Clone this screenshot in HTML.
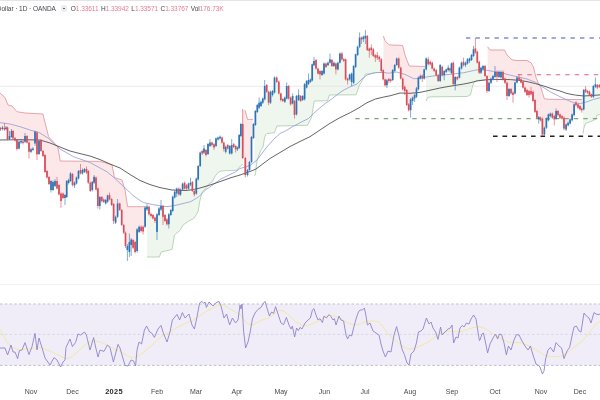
<!DOCTYPE html>
<html><head><meta charset="utf-8"><title>chart</title>
<style>
html,body{margin:0;padding:0;background:#fff;}
body{width:600px;height:400px;overflow:hidden;position:relative;font-family:"Liberation Sans",sans-serif;}
#wrap{position:absolute;left:0;top:0;width:600px;height:400px;overflow:hidden;background:#fff;filter:blur(0.35px);}
.hd{position:absolute;top:4.6px;right:376.4px;font-size:6.5px;line-height:8px;color:#46464c;white-space:nowrap;letter-spacing:-0.05px;}
.hd .v{color:#e67c90;}
.hd .ic{display:inline-block;width:6.4px;height:6.4px;border-radius:50%;background:#ececf0;vertical-align:-1px;margin:0 3.4px 0 4.4px;position:relative;}
.hd .ic:after{content:"";position:absolute;left:2px;top:2.8px;width:2.4px;height:0.9px;background:#666;}
.hd .g{margin-left:2.5px;}
.hd .t{position:relative;left:-0.8px;}
.tl{position:absolute;top:386.5px;width:40px;text-align:center;font-size:7px;line-height:10px;color:#4a4a50;}
.tl.b{font-weight:bold;color:#2a2a2e;font-size:7.4px;letter-spacing:0.3px;}
</style></head><body><div id="wrap">
<svg width="600" height="400" viewBox="0 0 600 400" style="position:absolute;left:0;top:0">
<rect x="0" y="0" width="600" height="1" fill="#e4e4e6"/>
<rect x="0" y="284.1" width="600" height="0.9" fill="#f1f1f3"/>
<polygon points="-2.0,91.0 0.0,93.0 5.0,97.5 8.0,105.0 12.0,106.0 17.0,111.7 25.0,113.0 43.0,114.0 44.4,120.0 48.6,136.7 57.8,146.8 60.3,161.0 99.5,161.4 104.5,162.6 112.0,165.0 114.5,177.6 122.0,180.0 125.0,190.0 127.6,206.7 146.0,206.7 146.0,212.8 145.1,217.2 143.1,229.2 141.1,228.9 139.1,229.4 137.1,240.2 135.1,247.0 133.1,243.9 131.2,242.2 129.4,247.0 127.4,248.0 125.5,239.3 123.7,228.8 121.7,217.5 119.7,206.8 117.6,210.1 115.6,219.8 113.6,212.5 111.6,202.0 109.5,197.2 107.6,198.6 105.7,201.8 103.7,200.8 101.8,199.0 99.8,201.5 97.9,197.2 96.0,183.5 94.1,179.8 92.3,186.0 90.3,186.8 88.3,176.8 86.5,170.8 84.5,170.5 82.5,171.8 80.5,171.8 78.5,174.8 76.5,180.5 74.5,184.0 72.5,179.5 70.5,177.2 68.6,181.5 66.7,189.0 65.0,196.5 63.0,195.8 61.0,197.2 59.0,189.8 57.0,184.8 55.0,183.5 53.0,186.0 51.0,185.5 49.0,180.5 47.0,174.2 45.0,163.5 43.0,153.5 41.0,145.5 39.0,147.5 37.0,143.4 35.0,137.6 33.0,149.2 31.0,150.6 29.0,147.2 27.0,139.3 25.0,138.9 23.0,142.2 21.0,141.8 19.0,145.2 17.0,144.5 15.0,139.2 13.0,134.7 11.5,134.0 9.5,137.5 7.5,133.4 6.0,128.2 4.5,128.8 2.5,128.2 0.5,128.8 -2.0,128.8" fill="#fde8e9"/>
<polygon points="242.5,109.5 245.0,110.2 247.6,119.4 253.0,119.4 253.0,135.6 251.5,149.5 249.5,166.0 247.5,172.5 245.3,166.5 242.7,141.0 242.5,139.8" fill="#fde8e9"/>
<polygon points="383.4,35.9 385.0,40.9 388.4,44.2 390.0,45.0 402.6,45.4 405.0,55.0 406.8,60.0 409.3,66.0 425.2,66.5 425.2,69.0 424.2,74.0 422.3,77.0 420.3,77.2 418.4,83.4 416.5,92.6 414.6,96.8 412.6,99.3 410.6,104.8 408.7,107.2 406.7,97.5 404.7,88.9 402.7,83.9 400.7,73.1 398.7,63.1 396.7,61.8 394.7,68.0 392.7,75.0 390.7,80.2 388.8,80.0 386.9,82.8 385.1,82.3 383.4,75.6" fill="#fde8e9"/>
<polygon points="487.6,46.8 490.0,50.0 504.4,50.0 507.0,55.0 512.0,59.8 517.0,60.5 527.0,60.5 531.0,62.7 533.5,67.0 536.0,77.5 538.5,83.4 541.0,87.6 542.7,93.5 544.4,98.8 548.6,99.3 582.0,99.6 582.0,108.3 581.8,109.3 580.0,107.7 578.0,106.0 576.0,104.0 574.1,109.8 572.1,117.3 570.1,121.5 568.1,124.0 566.1,127.0 564.0,123.2 562.0,117.3 560.0,116.1 558.0,113.1 556.1,114.8 554.3,117.8 552.3,115.7 550.3,114.8 548.4,117.3 546.4,123.2 544.4,131.2 542.4,126.5 540.5,119.0 538.7,118.2 536.9,114.3 535.0,106.0 533.0,96.4 531.0,92.7 529.0,93.0 527.0,92.5 525.0,89.7 523.0,84.7 521.0,80.9 519.0,78.8 517.0,80.0 515.0,88.0 513.0,93.8 511.0,91.2 509.0,92.5 507.0,89.4 505.0,80.7 503.0,75.7 501.0,74.7 499.0,74.4 497.0,74.4 495.0,74.4 493.0,77.7 491.0,80.7 489.0,86.9 487.6,84.5" fill="#fde8e9"/>
<polygon points="147.0,257.0 159.5,257.0 161.0,252.0 172.0,249.5 174.5,235.0 180.4,230.0 183.0,225.0 188.8,221.0 193.8,218.5 198.0,211.8 200.0,200.0 201.0,196.0 201.9,192.8 208.6,184.4 212.0,182.0 215.3,176.0 217.8,172.7 221.0,171.0 237.0,170.2 240.4,166.0 243.0,164.3 243.0,143.9 242.7,141.0 240.9,130.0 239.2,141.5 237.5,148.4 235.7,147.7 233.7,145.6 231.7,149.2 229.7,149.8 227.7,146.8 225.7,149.2 223.8,145.8 222.0,140.1 220.0,137.6 218.0,138.5 216.0,142.2 214.0,145.9 212.0,143.8 210.0,144.2 208.0,149.0 206.0,152.5 204.0,150.6 202.2,152.2 200.2,159.3 198.2,172.7 196.3,186.1 194.3,192.8 192.4,186.5 190.5,183.7 188.5,186.1 186.5,186.9 184.6,185.7 182.6,186.6 180.5,192.0 178.8,191.6 176.7,191.1 174.7,194.6 172.7,203.8 170.8,212.5 168.8,219.3 166.9,221.8 165.0,218.0 163.0,211.4 161.0,207.8 159.0,211.7 157.0,223.1 155.0,219.3 153.0,216.8 151.0,215.0 149.0,210.5 147.0,208.0 147.0,208.0" fill="#eef6ee"/>
<polygon points="254.5,176.0 255.5,174.0 257.0,161.0 259.0,155.0 261.0,150.0 263.0,147.0 264.5,138.0 265.5,135.0 267.0,133.5 274.4,132.8 276.9,126.0 307.5,125.3 311.7,117.0 314.2,101.0 327.6,100.7 329.3,95.0 356.0,94.8 359.5,85.0 364.5,76.7 365.3,74.2 377.0,72.5 382.0,72.5 382.0,68.7 381.3,65.2 379.3,58.0 377.3,56.5 375.3,56.5 373.3,52.6 371.3,48.9 369.3,49.8 367.3,43.0 365.4,37.1 363.4,38.0 361.5,38.5 359.6,42.2 357.6,50.9 355.6,60.6 353.6,74.4 351.6,77.8 349.6,76.9 347.6,79.5 345.6,69.3 343.8,60.1 341.9,56.4 339.9,58.1 337.9,66.1 335.9,66.5 333.9,64.3 331.9,63.0 330.0,61.0 328.0,64.0 326.0,65.2 324.0,68.5 322.0,73.0 320.0,72.7 318.0,71.1 316.0,64.3 314.0,63.1 312.2,72.5 310.4,80.8 308.5,82.0 306.6,84.3 304.6,91.8 302.6,98.0 300.6,98.5 298.6,97.5 296.5,105.2 294.5,108.0 292.6,99.8 290.6,100.9 288.6,92.2 286.7,92.2 284.8,99.7 282.8,100.0 280.8,96.8 278.8,87.6 276.7,79.8 274.5,85.0 272.5,93.0 270.5,97.2 268.6,97.2 266.7,88.4 264.7,92.7 262.8,100.6 261.0,103.9 259.1,105.2 257.3,108.5 255.4,118.0 254.5,124.2" fill="#eef6ee"/>
<polygon points="426.0,101.0 427.7,97.6 430.3,96.8 467.0,96.5 470.5,95.0 472.0,88.4 473.8,82.6 476.7,80.5 487.0,80.0 487.0,83.5 487.0,83.5 485.0,71.0 483.0,67.7 481.0,70.2 479.2,67.2 477.3,57.2 475.4,50.5 473.5,52.6 471.5,57.5 469.5,59.8 467.5,61.4 465.5,64.0 463.5,63.5 461.5,65.6 459.4,72.7 457.3,78.2 455.2,80.7 453.3,73.3 451.5,68.2 449.9,69.3 448.2,69.0 446.2,70.7 444.2,73.1 442.2,71.1 440.2,73.0 438.2,78.1 436.2,72.7 434.2,69.8 432.2,65.6 430.2,63.0 428.2,61.8 426.2,64.0 426.0,65.0" fill="#eef6ee"/>
<polygon points="583.0,133.6 583.8,128.6 585.4,123.6 592.0,121.0 595.5,119.4 597.0,115.2 601.0,114.4 601.0,85.9 599.4,85.9 597.4,86.3 595.4,85.5 593.4,91.4 591.4,95.5 589.5,93.4 587.6,91.8 585.6,90.5 583.7,99.7 583.0,103.3" fill="#eef6ee"/>
<line x1="0" y1="86.3" x2="600" y2="86.3" stroke="#ebe2e4" stroke-width="0.8"/>
<polyline points="-2.0,91.0 0.0,93.0 5.0,97.5 8.0,105.0 12.0,106.0 17.0,111.7 25.0,113.0 43.0,114.0 44.4,120.0 48.6,136.7 57.8,146.8 60.3,161.0 99.5,161.4 104.5,162.6 112.0,165.0 114.5,177.6 122.0,180.0 125.0,190.0 127.6,206.7 146.0,206.7" fill="none" stroke="#dc9098" stroke-width="0.8"/>
<polyline points="245.0,110.2 247.6,119.4 253.0,119.4" fill="none" stroke="#dc9098" stroke-width="0.8"/>
<polyline points="383.4,35.9 385.0,40.9 388.4,44.2 390.0,45.0 402.6,45.4 405.0,55.0 406.8,60.0 409.3,66.0 425.2,66.5" fill="none" stroke="#dc9098" stroke-width="0.8"/>
<polyline points="487.6,46.8 490.0,50.0 504.4,50.0 507.0,55.0 512.0,59.8 517.0,60.5 527.0,60.5 531.0,62.7 533.5,67.0 536.0,77.5 538.5,83.4 541.0,87.6 542.7,93.5 544.4,98.8 548.6,99.3 582.0,99.6" fill="none" stroke="#dc9098" stroke-width="0.8"/>
<polyline points="147.0,257.0 159.5,257.0 161.0,252.0 172.0,249.5 174.5,235.0 180.4,230.0 183.0,225.0 188.8,221.0 193.8,218.5 198.0,211.8 200.0,200.0 201.0,196.0 201.9,192.8 208.6,184.4 212.0,182.0 215.3,176.0 217.8,172.7 221.0,171.0 237.0,170.2 240.4,166.0 243.0,164.3" fill="none" stroke="#a9cba9" stroke-width="0.8"/>
<polyline points="254.5,176.0 255.5,174.0 257.0,161.0 259.0,155.0 261.0,150.0 263.0,147.0 264.5,138.0 265.5,135.0 267.0,133.5 274.4,132.8 276.9,126.0 307.5,125.3 311.7,117.0 314.2,101.0 327.6,100.7 329.3,95.0 356.0,94.8 359.5,85.0 364.5,76.7 365.3,74.2 377.0,72.5 382.0,72.5" fill="none" stroke="#a9cba9" stroke-width="0.8"/>
<polyline points="426.0,101.0 427.7,97.6 430.3,96.8 467.0,96.5 470.5,95.0 472.0,88.4 473.8,82.6 476.7,80.5 487.0,80.0" fill="none" stroke="#a9cba9" stroke-width="0.8"/>
<polyline points="583.0,133.6 583.8,128.6 585.4,123.6 592.0,121.0 595.5,119.4 597.0,115.2 601.0,114.4" fill="none" stroke="#a9cba9" stroke-width="0.8"/>
<line x1="466" y1="38" x2="600" y2="38" stroke="#4054c0" stroke-width="1.15" stroke-dasharray="4.4 5.1"/>
<line x1="517.8" y1="74.7" x2="600" y2="74.7" stroke="#e4607a" stroke-width="1.15" stroke-dasharray="4.4 5.1"/>
<line x1="355.3" y1="118.6" x2="600" y2="118.6" stroke="#76aa76" stroke-width="1.05" stroke-dasharray="4.4 5.1"/>
<line x1="493" y1="136.3" x2="600" y2="136.3" stroke="#222" stroke-width="1.4" stroke-dasharray="4.6 4.9"/>
<polyline points="-1.0,122.5 10.0,124.0 20.0,126.7 30.0,130.0 40.0,133.0 48.0,138.0 60.0,149.0 73.5,156.7 90.0,162.5 107.0,171.8 115.0,178.5 123.7,186.8 128.5,191.0 133.0,195.5 140.0,200.5 143.5,202.6 155.0,205.0 167.0,206.7 177.0,205.0 190.5,201.7 198.5,197.0 205.0,190.3 215.0,183.3 220.0,179.5 227.0,176.0 235.4,171.9 240.0,168.5 245.0,167.0 250.0,165.5 257.0,160.0 266.0,148.0 274.0,139.0 280.0,133.5 285.3,131.0 292.0,127.0 300.0,122.8 308.4,118.5 316.8,110.5 325.0,103.6 331.0,99.5 338.0,94.0 343.0,90.5 350.0,86.8 357.0,84.0 362.0,79.0 367.0,75.0 375.4,72.6 383.8,72.5 388.4,73.2 396.8,72.0 405.0,74.4 413.5,78.6 418.5,78.6 427.0,76.9 438.6,75.2 450.4,74.4 463.8,72.7 473.8,70.5 476.7,69.9 485.0,69.9 493.5,71.5 501.9,72.9 510.3,75.2 518.6,77.0 527.0,79.0 535.4,82.3 541.9,86.5 550.3,91.8 558.6,96.0 567.0,100.0 573.7,102.7 580.4,103.5 587.0,101.8 593.8,99.3 601.0,97.6" fill="none" stroke="#9199d6" stroke-width="0.8" stroke-linejoin="round"/>
<polyline points="-1.0,140.0 20.0,139.7 40.0,140.0 50.0,143.0 60.0,147.0 70.0,151.0 80.0,153.6 90.0,156.0 100.0,159.6 110.0,164.0 120.0,168.0 130.0,174.5 140.0,180.5 150.0,184.6 160.0,187.6 172.0,190.0 186.0,190.5 193.5,189.5 200.0,188.0 210.0,185.0 220.0,181.6 230.0,178.0 240.0,175.0 250.0,171.5 256.0,169.0 262.0,164.5 270.0,158.5 280.0,152.5 290.0,146.5 300.0,141.5 310.0,136.7 320.0,130.0 330.0,123.3 340.0,117.6 350.3,112.6 358.6,108.0 367.0,102.7 375.4,99.0 383.8,97.0 390.0,95.8 400.0,93.0 410.0,93.3 420.0,92.4 430.0,90.2 440.0,88.0 450.0,86.2 463.8,84.0 470.0,82.8 476.7,81.0 485.0,79.9 493.5,79.4 510.3,79.6 518.6,80.3 527.0,81.6 535.4,83.6 543.8,86.0 552.0,88.8 560.0,91.0 567.0,93.5 575.4,95.1 583.8,96.0 592.0,95.5 601.0,94.8" fill="none" stroke="#484848" stroke-width="0.85" stroke-linejoin="round"/>
<line x1="0.5" y1="127.0" x2="0.5" y2="131.0" stroke="#db4b59" stroke-width="0.6"/>
<rect x="-0.35" y="128.0" width="1.7" height="1.5" fill="#db4b59"/>
<line x1="2.5" y1="126.0" x2="2.5" y2="130.5" stroke="#2c74b6" stroke-width="0.6"/>
<rect x="1.65" y="127.5" width="1.7" height="1.5" fill="#2c74b6"/>
<line x1="4.5" y1="123.0" x2="4.5" y2="131.0" stroke="#db4b59" stroke-width="0.6"/>
<rect x="3.65" y="128.0" width="1.7" height="1.5" fill="#db4b59"/>
<line x1="6.0" y1="126.0" x2="6.0" y2="130.0" stroke="#2c74b6" stroke-width="0.6"/>
<rect x="5.15" y="127.5" width="1.7" height="1.5" fill="#2c74b6"/>
<line x1="7.5" y1="126.5" x2="7.5" y2="140.5" stroke="#db4b59" stroke-width="0.6"/>
<rect x="6.65" y="127.5" width="1.7" height="11.8" fill="#db4b59"/>
<line x1="9.5" y1="131.0" x2="9.5" y2="140.0" stroke="#2c74b6" stroke-width="0.6"/>
<rect x="8.65" y="136.0" width="1.7" height="3.0" fill="#2c74b6"/>
<line x1="11.5" y1="129.0" x2="11.5" y2="138.0" stroke="#2c74b6" stroke-width="0.6"/>
<rect x="10.65" y="131.0" width="1.7" height="6.0" fill="#2c74b6"/>
<line x1="13.0" y1="130.0" x2="13.0" y2="139.5" stroke="#db4b59" stroke-width="0.6"/>
<rect x="12.15" y="131.0" width="1.7" height="7.4" fill="#db4b59"/>
<line x1="15.0" y1="137.0" x2="15.0" y2="141.5" stroke="#db4b59" stroke-width="0.6"/>
<rect x="14.15" y="138.0" width="1.7" height="2.5" fill="#db4b59"/>
<line x1="17.0" y1="139.0" x2="17.0" y2="150.5" stroke="#db4b59" stroke-width="0.6"/>
<rect x="16.15" y="140.0" width="1.7" height="9.0" fill="#db4b59"/>
<line x1="19.0" y1="140.5" x2="19.0" y2="149.5" stroke="#2c74b6" stroke-width="0.6"/>
<rect x="18.15" y="141.8" width="1.7" height="6.7" fill="#2c74b6"/>
<line x1="21.0" y1="139.5" x2="21.0" y2="144.0" stroke="#2c74b6" stroke-width="0.6"/>
<rect x="20.15" y="141.0" width="1.7" height="1.5" fill="#2c74b6"/>
<line x1="23.0" y1="140.0" x2="23.0" y2="144.5" stroke="#db4b59" stroke-width="0.6"/>
<rect x="22.15" y="141.5" width="1.7" height="1.5" fill="#db4b59"/>
<line x1="25.0" y1="133.0" x2="25.0" y2="143.0" stroke="#2c74b6" stroke-width="0.6"/>
<rect x="24.15" y="136.0" width="1.7" height="5.8" fill="#2c74b6"/>
<line x1="27.0" y1="135.0" x2="27.0" y2="143.5" stroke="#db4b59" stroke-width="0.6"/>
<rect x="26.15" y="136.0" width="1.7" height="6.6" fill="#db4b59"/>
<line x1="29.0" y1="141.5" x2="29.0" y2="158.5" stroke="#db4b59" stroke-width="0.6"/>
<rect x="28.15" y="142.6" width="1.7" height="9.2" fill="#db4b59"/>
<line x1="31.0" y1="148.0" x2="31.0" y2="153.0" stroke="#2c74b6" stroke-width="0.6"/>
<rect x="30.15" y="149.3" width="1.7" height="2.5" fill="#2c74b6"/>
<line x1="33.0" y1="147.0" x2="33.0" y2="151.0" stroke="#2c74b6" stroke-width="0.6"/>
<rect x="32.15" y="148.5" width="1.7" height="1.5" fill="#2c74b6"/>
<line x1="35.0" y1="130.5" x2="35.0" y2="146.0" stroke="#2c74b6" stroke-width="0.6"/>
<rect x="34.15" y="131.7" width="1.7" height="11.8" fill="#2c74b6"/>
<line x1="37.0" y1="131.0" x2="37.0" y2="160.0" stroke="#db4b59" stroke-width="0.6"/>
<rect x="36.15" y="132.5" width="1.7" height="21.8" fill="#db4b59"/>
<line x1="39.0" y1="140.0" x2="39.0" y2="155.0" stroke="#2c74b6" stroke-width="0.6"/>
<rect x="38.15" y="141.0" width="1.7" height="13.0" fill="#2c74b6"/>
<line x1="41.0" y1="139.0" x2="41.0" y2="152.0" stroke="#db4b59" stroke-width="0.6"/>
<rect x="40.15" y="140.0" width="1.7" height="11.0" fill="#db4b59"/>
<line x1="43.0" y1="150.0" x2="43.0" y2="157.0" stroke="#db4b59" stroke-width="0.6"/>
<rect x="42.15" y="151.0" width="1.7" height="5.0" fill="#db4b59"/>
<line x1="45.0" y1="154.0" x2="45.0" y2="173.0" stroke="#db4b59" stroke-width="0.6"/>
<rect x="44.15" y="155.0" width="1.7" height="17.0" fill="#db4b59"/>
<line x1="47.0" y1="170.0" x2="47.0" y2="178.5" stroke="#db4b59" stroke-width="0.6"/>
<rect x="46.15" y="171.0" width="1.7" height="6.5" fill="#db4b59"/>
<line x1="49.0" y1="176.0" x2="49.0" y2="185.0" stroke="#db4b59" stroke-width="0.6"/>
<rect x="48.15" y="177.0" width="1.7" height="7.0" fill="#db4b59"/>
<line x1="51.0" y1="180.0" x2="51.0" y2="192.5" stroke="#2c74b6" stroke-width="0.6"/>
<rect x="50.15" y="181.0" width="1.7" height="9.0" fill="#2c74b6"/>
<line x1="53.0" y1="180.5" x2="53.0" y2="191.0" stroke="#2c74b6" stroke-width="0.6"/>
<rect x="52.15" y="182.0" width="1.7" height="8.0" fill="#2c74b6"/>
<line x1="55.0" y1="179.0" x2="55.0" y2="187.0" stroke="#2c74b6" stroke-width="0.6"/>
<rect x="54.15" y="181.0" width="1.7" height="5.0" fill="#2c74b6"/>
<line x1="57.0" y1="177.0" x2="57.0" y2="189.5" stroke="#db4b59" stroke-width="0.6"/>
<rect x="56.15" y="181.0" width="1.7" height="7.5" fill="#db4b59"/>
<line x1="59.0" y1="184.0" x2="59.0" y2="195.5" stroke="#db4b59" stroke-width="0.6"/>
<rect x="58.15" y="185.0" width="1.7" height="9.5" fill="#db4b59"/>
<line x1="61.0" y1="192.5" x2="61.0" y2="207.8" stroke="#db4b59" stroke-width="0.6"/>
<rect x="60.15" y="193.5" width="1.7" height="7.5" fill="#db4b59"/>
<line x1="63.0" y1="192.5" x2="63.0" y2="199.0" stroke="#db4b59" stroke-width="0.6"/>
<rect x="62.15" y="193.5" width="1.7" height="4.5" fill="#db4b59"/>
<line x1="65.0" y1="194.0" x2="65.0" y2="205.0" stroke="#2c74b6" stroke-width="0.6"/>
<rect x="64.15" y="195.0" width="1.7" height="3.0" fill="#2c74b6"/>
<line x1="66.7" y1="180.0" x2="66.7" y2="198.0" stroke="#2c74b6" stroke-width="0.6"/>
<rect x="65.85" y="181.0" width="1.7" height="16.0" fill="#2c74b6"/>
<line x1="68.6" y1="178.5" x2="68.6" y2="184.5" stroke="#2c74b6" stroke-width="0.6"/>
<rect x="67.75" y="180.0" width="1.7" height="3.0" fill="#2c74b6"/>
<line x1="70.5" y1="172.0" x2="70.5" y2="182.0" stroke="#2c74b6" stroke-width="0.6"/>
<rect x="69.65" y="173.5" width="1.7" height="7.5" fill="#2c74b6"/>
<line x1="72.5" y1="173.0" x2="72.5" y2="186.5" stroke="#db4b59" stroke-width="0.6"/>
<rect x="71.65" y="174.0" width="1.7" height="11.0" fill="#db4b59"/>
<line x1="74.5" y1="181.5" x2="74.5" y2="188.0" stroke="#2c74b6" stroke-width="0.6"/>
<rect x="73.65" y="182.5" width="1.7" height="3.0" fill="#2c74b6"/>
<line x1="76.5" y1="176.5" x2="76.5" y2="184.5" stroke="#2c74b6" stroke-width="0.6"/>
<rect x="75.65" y="177.5" width="1.7" height="6.0" fill="#2c74b6"/>
<line x1="78.5" y1="170.0" x2="78.5" y2="179.5" stroke="#2c74b6" stroke-width="0.6"/>
<rect x="77.65" y="171.0" width="1.7" height="7.5" fill="#2c74b6"/>
<line x1="80.5" y1="164.0" x2="80.5" y2="174.5" stroke="#db4b59" stroke-width="0.6"/>
<rect x="79.65" y="170.0" width="1.7" height="3.5" fill="#db4b59"/>
<line x1="82.5" y1="168.5" x2="82.5" y2="174.5" stroke="#2c74b6" stroke-width="0.6"/>
<rect x="81.65" y="170.0" width="1.7" height="3.5" fill="#2c74b6"/>
<line x1="84.5" y1="168.0" x2="84.5" y2="173.0" stroke="#2c74b6" stroke-width="0.6"/>
<rect x="83.65" y="169.0" width="1.7" height="3.0" fill="#2c74b6"/>
<line x1="86.5" y1="166.5" x2="86.5" y2="174.0" stroke="#db4b59" stroke-width="0.6"/>
<rect x="85.65" y="169.0" width="1.7" height="3.6" fill="#db4b59"/>
<line x1="88.3" y1="170.0" x2="88.3" y2="184.0" stroke="#db4b59" stroke-width="0.6"/>
<rect x="87.45" y="171.0" width="1.7" height="11.7" fill="#db4b59"/>
<line x1="90.3" y1="181.5" x2="90.3" y2="192.0" stroke="#db4b59" stroke-width="0.6"/>
<rect x="89.45" y="182.7" width="1.7" height="8.3" fill="#db4b59"/>
<line x1="92.3" y1="181.0" x2="92.3" y2="191.5" stroke="#2c74b6" stroke-width="0.6"/>
<rect x="91.45" y="182.0" width="1.7" height="8.0" fill="#2c74b6"/>
<line x1="94.1" y1="175.0" x2="94.1" y2="184.0" stroke="#2c74b6" stroke-width="0.6"/>
<rect x="93.25" y="176.8" width="1.7" height="5.9" fill="#2c74b6"/>
<line x1="96.0" y1="176.5" x2="96.0" y2="190.5" stroke="#db4b59" stroke-width="0.6"/>
<rect x="95.15" y="177.5" width="1.7" height="12.0" fill="#db4b59"/>
<line x1="97.9" y1="187.5" x2="97.9" y2="208.5" stroke="#db4b59" stroke-width="0.6"/>
<rect x="97.05" y="188.5" width="1.7" height="17.5" fill="#db4b59"/>
<line x1="99.8" y1="196.0" x2="99.8" y2="209.5" stroke="#2c74b6" stroke-width="0.6"/>
<rect x="98.95" y="197.0" width="1.7" height="9.0" fill="#2c74b6"/>
<line x1="101.8" y1="196.0" x2="101.8" y2="202.5" stroke="#db4b59" stroke-width="0.6"/>
<rect x="100.95" y="197.0" width="1.7" height="4.0" fill="#db4b59"/>
<line x1="103.7" y1="198.5" x2="103.7" y2="203.0" stroke="#db4b59" stroke-width="0.6"/>
<rect x="102.85" y="199.5" width="1.7" height="2.5" fill="#db4b59"/>
<line x1="105.7" y1="199.0" x2="105.7" y2="204.5" stroke="#2c74b6" stroke-width="0.6"/>
<rect x="104.85" y="200.0" width="1.7" height="3.5" fill="#2c74b6"/>
<line x1="107.6" y1="194.5" x2="107.6" y2="203.0" stroke="#2c74b6" stroke-width="0.6"/>
<rect x="106.75" y="195.5" width="1.7" height="6.2" fill="#2c74b6"/>
<line x1="109.5" y1="192.5" x2="109.5" y2="200.5" stroke="#db4b59" stroke-width="0.6"/>
<rect x="108.65" y="195.0" width="1.7" height="4.5" fill="#db4b59"/>
<line x1="111.6" y1="198.0" x2="111.6" y2="206.0" stroke="#db4b59" stroke-width="0.6"/>
<rect x="110.75" y="199.0" width="1.7" height="6.0" fill="#db4b59"/>
<line x1="113.6" y1="203.0" x2="113.6" y2="224.0" stroke="#db4b59" stroke-width="0.6"/>
<rect x="112.75" y="204.0" width="1.7" height="17.0" fill="#db4b59"/>
<line x1="115.6" y1="215.5" x2="115.6" y2="224.0" stroke="#2c74b6" stroke-width="0.6"/>
<rect x="114.75" y="216.8" width="1.7" height="5.9" fill="#2c74b6"/>
<line x1="117.6" y1="199.0" x2="117.6" y2="218.0" stroke="#2c74b6" stroke-width="0.6"/>
<rect x="116.75" y="203.4" width="1.7" height="13.4" fill="#2c74b6"/>
<line x1="119.7" y1="202.5" x2="119.7" y2="211.0" stroke="#db4b59" stroke-width="0.6"/>
<rect x="118.85" y="203.5" width="1.7" height="6.5" fill="#db4b59"/>
<line x1="121.7" y1="209.0" x2="121.7" y2="226.0" stroke="#db4b59" stroke-width="0.6"/>
<rect x="120.85" y="210.0" width="1.7" height="15.0" fill="#db4b59"/>
<line x1="123.7" y1="224.0" x2="123.7" y2="234.0" stroke="#db4b59" stroke-width="0.6"/>
<rect x="122.85" y="225.0" width="1.7" height="7.7" fill="#db4b59"/>
<line x1="125.5" y1="231.5" x2="125.5" y2="248.0" stroke="#db4b59" stroke-width="0.6"/>
<rect x="124.65" y="232.7" width="1.7" height="13.3" fill="#db4b59"/>
<line x1="127.4" y1="244.0" x2="127.4" y2="261.0" stroke="#2c74b6" stroke-width="0.6"/>
<rect x="126.55" y="246.0" width="1.7" height="4.0" fill="#2c74b6"/>
<line x1="129.4" y1="233.5" x2="129.4" y2="257.0" stroke="#2c74b6" stroke-width="0.6"/>
<rect x="128.55" y="242.0" width="1.7" height="10.0" fill="#2c74b6"/>
<line x1="131.2" y1="238.0" x2="131.2" y2="256.0" stroke="#2c74b6" stroke-width="0.6"/>
<rect x="130.35" y="239.5" width="1.7" height="5.5" fill="#2c74b6"/>
<line x1="133.1" y1="239.0" x2="133.1" y2="249.0" stroke="#db4b59" stroke-width="0.6"/>
<rect x="132.25" y="240.0" width="1.7" height="7.8" fill="#db4b59"/>
<line x1="135.1" y1="241.0" x2="135.1" y2="253.5" stroke="#db4b59" stroke-width="0.6"/>
<rect x="134.25" y="242.0" width="1.7" height="10.0" fill="#db4b59"/>
<line x1="137.1" y1="228.0" x2="137.1" y2="252.5" stroke="#2c74b6" stroke-width="0.6"/>
<rect x="136.25" y="229.4" width="1.7" height="21.6" fill="#2c74b6"/>
<line x1="139.1" y1="225.5" x2="139.1" y2="233.0" stroke="#2c74b6" stroke-width="0.6"/>
<rect x="138.25" y="226.8" width="1.7" height="5.1" fill="#2c74b6"/>
<line x1="141.1" y1="225.5" x2="141.1" y2="232.5" stroke="#db4b59" stroke-width="0.6"/>
<rect x="140.25" y="226.8" width="1.7" height="4.2" fill="#db4b59"/>
<line x1="143.1" y1="225.5" x2="143.1" y2="234.5" stroke="#db4b59" stroke-width="0.6"/>
<rect x="142.25" y="226.8" width="1.7" height="4.7" fill="#db4b59"/>
<line x1="145.1" y1="206.5" x2="145.1" y2="228.0" stroke="#2c74b6" stroke-width="0.6"/>
<rect x="144.25" y="207.6" width="1.7" height="19.2" fill="#2c74b6"/>
<line x1="147.0" y1="204.0" x2="147.0" y2="211.0" stroke="#2c74b6" stroke-width="0.6"/>
<rect x="146.15" y="206.5" width="1.7" height="3.0" fill="#2c74b6"/>
<line x1="149.0" y1="205.5" x2="149.0" y2="215.5" stroke="#db4b59" stroke-width="0.6"/>
<rect x="148.15" y="206.7" width="1.7" height="7.6" fill="#db4b59"/>
<line x1="151.0" y1="212.5" x2="151.0" y2="217.5" stroke="#db4b59" stroke-width="0.6"/>
<rect x="150.15" y="214.0" width="1.7" height="2.0" fill="#db4b59"/>
<line x1="153.0" y1="214.0" x2="153.0" y2="219.5" stroke="#db4b59" stroke-width="0.6"/>
<rect x="152.15" y="215.0" width="1.7" height="3.5" fill="#db4b59"/>
<line x1="155.0" y1="216.5" x2="155.0" y2="223.0" stroke="#db4b59" stroke-width="0.6"/>
<rect x="154.15" y="217.6" width="1.7" height="3.4" fill="#db4b59"/>
<line x1="157.0" y1="213.0" x2="157.0" y2="240.0" stroke="#2c74b6" stroke-width="0.6"/>
<rect x="156.15" y="214.3" width="1.7" height="17.6" fill="#2c74b6"/>
<line x1="159.0" y1="207.0" x2="159.0" y2="216.0" stroke="#2c74b6" stroke-width="0.6"/>
<rect x="158.15" y="208.4" width="1.7" height="6.6" fill="#2c74b6"/>
<line x1="161.0" y1="200.0" x2="161.0" y2="211.0" stroke="#2c74b6" stroke-width="0.6"/>
<rect x="160.15" y="206.0" width="1.7" height="3.5" fill="#2c74b6"/>
<line x1="163.0" y1="205.0" x2="163.0" y2="225.0" stroke="#db4b59" stroke-width="0.6"/>
<rect x="162.15" y="206.0" width="1.7" height="10.8" fill="#db4b59"/>
<line x1="165.0" y1="214.0" x2="165.0" y2="222.0" stroke="#db4b59" stroke-width="0.6"/>
<rect x="164.15" y="215.0" width="1.7" height="6.0" fill="#db4b59"/>
<line x1="166.9" y1="218.0" x2="166.9" y2="225.5" stroke="#db4b59" stroke-width="0.6"/>
<rect x="166.05" y="219.3" width="1.7" height="5.0" fill="#db4b59"/>
<line x1="168.8" y1="213.0" x2="168.8" y2="228.5" stroke="#2c74b6" stroke-width="0.6"/>
<rect x="167.95" y="214.3" width="1.7" height="10.0" fill="#2c74b6"/>
<line x1="170.8" y1="209.0" x2="170.8" y2="216.0" stroke="#2c74b6" stroke-width="0.6"/>
<rect x="169.95" y="210.0" width="1.7" height="5.0" fill="#2c74b6"/>
<line x1="172.7" y1="195.5" x2="172.7" y2="212.0" stroke="#2c74b6" stroke-width="0.6"/>
<rect x="171.85" y="196.7" width="1.7" height="14.3" fill="#2c74b6"/>
<line x1="174.7" y1="190.5" x2="174.7" y2="198.5" stroke="#2c74b6" stroke-width="0.6"/>
<rect x="173.85" y="191.7" width="1.7" height="5.8" fill="#2c74b6"/>
<line x1="176.7" y1="187.5" x2="176.7" y2="197.0" stroke="#2c74b6" stroke-width="0.6"/>
<rect x="175.85" y="188.6" width="1.7" height="4.9" fill="#2c74b6"/>
<line x1="178.8" y1="187.5" x2="178.8" y2="195.5" stroke="#db4b59" stroke-width="0.6"/>
<rect x="177.95" y="188.6" width="1.7" height="5.9" fill="#db4b59"/>
<line x1="180.5" y1="188.5" x2="180.5" y2="196.0" stroke="#2c74b6" stroke-width="0.6"/>
<rect x="179.65" y="189.5" width="1.7" height="5.0" fill="#2c74b6"/>
<line x1="182.6" y1="182.5" x2="182.6" y2="190.5" stroke="#2c74b6" stroke-width="0.6"/>
<rect x="181.75" y="183.6" width="1.7" height="5.9" fill="#2c74b6"/>
<line x1="184.6" y1="181.5" x2="184.6" y2="189.5" stroke="#db4b59" stroke-width="0.6"/>
<rect x="183.75" y="182.8" width="1.7" height="5.8" fill="#db4b59"/>
<line x1="186.5" y1="184.0" x2="186.5" y2="189.8" stroke="#db4b59" stroke-width="0.6"/>
<rect x="185.65" y="185.3" width="1.7" height="3.3" fill="#db4b59"/>
<line x1="188.5" y1="182.5" x2="188.5" y2="189.5" stroke="#2c74b6" stroke-width="0.6"/>
<rect x="187.65" y="183.6" width="1.7" height="5.0" fill="#2c74b6"/>
<line x1="190.5" y1="177.7" x2="190.5" y2="186.0" stroke="#2c74b6" stroke-width="0.6"/>
<rect x="189.65" y="182.8" width="1.7" height="1.7" fill="#2c74b6"/>
<line x1="192.4" y1="181.0" x2="192.4" y2="192.0" stroke="#db4b59" stroke-width="0.6"/>
<rect x="191.55" y="182.0" width="1.7" height="9.0" fill="#db4b59"/>
<line x1="194.3" y1="190.0" x2="194.3" y2="196.5" stroke="#db4b59" stroke-width="0.6"/>
<rect x="193.45" y="191.0" width="1.7" height="3.5" fill="#db4b59"/>
<line x1="196.3" y1="177.5" x2="196.3" y2="194.8" stroke="#2c74b6" stroke-width="0.6"/>
<rect x="195.45" y="178.6" width="1.7" height="15.0" fill="#2c74b6"/>
<line x1="198.2" y1="165.0" x2="198.2" y2="180.5" stroke="#2c74b6" stroke-width="0.6"/>
<rect x="197.35" y="166.0" width="1.7" height="13.4" fill="#2c74b6"/>
<line x1="200.2" y1="151.5" x2="200.2" y2="167.0" stroke="#2c74b6" stroke-width="0.6"/>
<rect x="199.35" y="152.6" width="1.7" height="13.4" fill="#2c74b6"/>
<line x1="202.2" y1="149.5" x2="202.2" y2="155.0" stroke="#db4b59" stroke-width="0.6"/>
<rect x="201.35" y="151.0" width="1.7" height="2.5" fill="#db4b59"/>
<line x1="204.0" y1="145.0" x2="204.0" y2="154.0" stroke="#2c74b6" stroke-width="0.6"/>
<rect x="203.15" y="148.5" width="1.7" height="4.1" fill="#2c74b6"/>
<line x1="206.0" y1="149.0" x2="206.0" y2="156.5" stroke="#db4b59" stroke-width="0.6"/>
<rect x="205.15" y="150.0" width="1.7" height="5.0" fill="#db4b59"/>
<line x1="208.0" y1="143.0" x2="208.0" y2="155.0" stroke="#2c74b6" stroke-width="0.6"/>
<rect x="207.15" y="144.0" width="1.7" height="10.0" fill="#2c74b6"/>
<line x1="210.0" y1="139.0" x2="210.0" y2="147.0" stroke="#2c74b6" stroke-width="0.6"/>
<rect x="209.15" y="142.5" width="1.7" height="3.5" fill="#2c74b6"/>
<line x1="212.0" y1="141.5" x2="212.0" y2="146.5" stroke="#db4b59" stroke-width="0.6"/>
<rect x="211.15" y="142.5" width="1.7" height="2.5" fill="#db4b59"/>
<line x1="214.0" y1="143.0" x2="214.0" y2="150.0" stroke="#db4b59" stroke-width="0.6"/>
<rect x="213.15" y="144.2" width="1.7" height="3.4" fill="#db4b59"/>
<line x1="216.0" y1="137.5" x2="216.0" y2="147.0" stroke="#2c74b6" stroke-width="0.6"/>
<rect x="215.15" y="138.4" width="1.7" height="7.6" fill="#2c74b6"/>
<line x1="218.0" y1="136.5" x2="218.0" y2="140.5" stroke="#2c74b6" stroke-width="0.6"/>
<rect x="217.15" y="137.5" width="1.7" height="2.0" fill="#2c74b6"/>
<line x1="220.0" y1="135.5" x2="220.0" y2="139.5" stroke="#2c74b6" stroke-width="0.6"/>
<rect x="219.15" y="136.7" width="1.7" height="1.7" fill="#2c74b6"/>
<line x1="222.0" y1="136.5" x2="222.0" y2="143.5" stroke="#db4b59" stroke-width="0.6"/>
<rect x="221.15" y="137.5" width="1.7" height="5.1" fill="#db4b59"/>
<line x1="223.8" y1="141.5" x2="223.8" y2="151.5" stroke="#db4b59" stroke-width="0.6"/>
<rect x="222.95" y="142.6" width="1.7" height="6.4" fill="#db4b59"/>
<line x1="225.7" y1="145.5" x2="225.7" y2="153.5" stroke="#2c74b6" stroke-width="0.6"/>
<rect x="224.85" y="146.7" width="1.7" height="5.1" fill="#2c74b6"/>
<line x1="227.7" y1="144.0" x2="227.7" y2="149.5" stroke="#db4b59" stroke-width="0.6"/>
<rect x="226.85" y="145.0" width="1.7" height="3.5" fill="#db4b59"/>
<line x1="229.7" y1="145.0" x2="229.7" y2="154.5" stroke="#2c74b6" stroke-width="0.6"/>
<rect x="228.85" y="146.0" width="1.7" height="7.5" fill="#2c74b6"/>
<line x1="231.7" y1="139.0" x2="231.7" y2="154.5" stroke="#2c74b6" stroke-width="0.6"/>
<rect x="230.85" y="145.0" width="1.7" height="8.5" fill="#2c74b6"/>
<line x1="233.7" y1="143.0" x2="233.7" y2="148.0" stroke="#db4b59" stroke-width="0.6"/>
<rect x="232.85" y="144.2" width="1.7" height="2.8" fill="#db4b59"/>
<line x1="235.7" y1="145.0" x2="235.7" y2="152.6" stroke="#db4b59" stroke-width="0.6"/>
<rect x="234.85" y="146.0" width="1.7" height="3.3" fill="#db4b59"/>
<line x1="237.5" y1="146.5" x2="237.5" y2="151.0" stroke="#2c74b6" stroke-width="0.6"/>
<rect x="236.65" y="147.6" width="1.7" height="1.7" fill="#2c74b6"/>
<line x1="239.2" y1="134.0" x2="239.2" y2="149.0" stroke="#2c74b6" stroke-width="0.6"/>
<rect x="238.35" y="135.0" width="1.7" height="13.0" fill="#2c74b6"/>
<line x1="240.9" y1="123.0" x2="240.9" y2="137.0" stroke="#2c74b6" stroke-width="0.6"/>
<rect x="240.05" y="124.0" width="1.7" height="12.0" fill="#2c74b6"/>
<line x1="242.7" y1="109.0" x2="242.7" y2="159.0" stroke="#db4b59" stroke-width="0.6"/>
<rect x="241.85" y="124.0" width="1.7" height="34.0" fill="#db4b59"/>
<line x1="245.3" y1="157.0" x2="245.3" y2="177.5" stroke="#db4b59" stroke-width="0.6"/>
<rect x="244.45" y="158.0" width="1.7" height="17.0" fill="#db4b59"/>
<line x1="247.5" y1="169.0" x2="247.5" y2="176.5" stroke="#2c74b6" stroke-width="0.6"/>
<rect x="246.65" y="170.0" width="1.7" height="5.0" fill="#2c74b6"/>
<line x1="249.5" y1="161.0" x2="249.5" y2="171.0" stroke="#2c74b6" stroke-width="0.6"/>
<rect x="248.65" y="162.0" width="1.7" height="8.0" fill="#2c74b6"/>
<line x1="251.5" y1="136.0" x2="251.5" y2="163.0" stroke="#2c74b6" stroke-width="0.6"/>
<rect x="250.65" y="137.0" width="1.7" height="25.0" fill="#2c74b6"/>
<line x1="253.5" y1="123.0" x2="253.5" y2="139.0" stroke="#2c74b6" stroke-width="0.6"/>
<rect x="252.65" y="124.0" width="1.7" height="14.0" fill="#2c74b6"/>
<line x1="255.4" y1="110.0" x2="255.4" y2="126.0" stroke="#2c74b6" stroke-width="0.6"/>
<rect x="254.55" y="111.0" width="1.7" height="14.0" fill="#2c74b6"/>
<line x1="257.3" y1="104.0" x2="257.3" y2="113.0" stroke="#2c74b6" stroke-width="0.6"/>
<rect x="256.45" y="105.0" width="1.7" height="7.0" fill="#2c74b6"/>
<line x1="259.1" y1="97.6" x2="259.1" y2="109.0" stroke="#2c74b6" stroke-width="0.6"/>
<rect x="258.25" y="102.7" width="1.7" height="5.0" fill="#2c74b6"/>
<line x1="261.0" y1="100.5" x2="261.0" y2="107.0" stroke="#2c74b6" stroke-width="0.6"/>
<rect x="260.15" y="101.8" width="1.7" height="4.2" fill="#2c74b6"/>
<line x1="262.8" y1="97.5" x2="262.8" y2="104.0" stroke="#2c74b6" stroke-width="0.6"/>
<rect x="261.95" y="98.5" width="1.7" height="4.2" fill="#2c74b6"/>
<line x1="264.7" y1="80.0" x2="264.7" y2="100.5" stroke="#2c74b6" stroke-width="0.6"/>
<rect x="263.85" y="86.0" width="1.7" height="13.3" fill="#2c74b6"/>
<line x1="266.7" y1="84.0" x2="266.7" y2="93.0" stroke="#db4b59" stroke-width="0.6"/>
<rect x="265.85" y="85.0" width="1.7" height="6.8" fill="#db4b59"/>
<line x1="268.6" y1="90.5" x2="268.6" y2="105.2" stroke="#db4b59" stroke-width="0.6"/>
<rect x="267.75" y="91.8" width="1.7" height="10.9" fill="#db4b59"/>
<line x1="270.5" y1="90.5" x2="270.5" y2="104.0" stroke="#2c74b6" stroke-width="0.6"/>
<rect x="269.65" y="91.8" width="1.7" height="10.9" fill="#2c74b6"/>
<line x1="272.5" y1="90.0" x2="272.5" y2="96.5" stroke="#2c74b6" stroke-width="0.6"/>
<rect x="271.65" y="91.0" width="1.7" height="4.0" fill="#2c74b6"/>
<line x1="274.5" y1="76.5" x2="274.5" y2="93.5" stroke="#2c74b6" stroke-width="0.6"/>
<rect x="273.65" y="77.5" width="1.7" height="15.1" fill="#2c74b6"/>
<line x1="276.7" y1="76.5" x2="276.7" y2="83.0" stroke="#db4b59" stroke-width="0.6"/>
<rect x="275.85" y="77.5" width="1.7" height="4.5" fill="#db4b59"/>
<line x1="278.8" y1="80.5" x2="278.8" y2="94.5" stroke="#db4b59" stroke-width="0.6"/>
<rect x="277.95" y="81.7" width="1.7" height="11.8" fill="#db4b59"/>
<line x1="280.8" y1="92.5" x2="280.8" y2="101.5" stroke="#db4b59" stroke-width="0.6"/>
<rect x="279.95" y="93.5" width="1.7" height="6.5" fill="#db4b59"/>
<line x1="282.8" y1="98.0" x2="282.8" y2="102.0" stroke="#db4b59" stroke-width="0.6"/>
<rect x="281.95" y="99.0" width="1.7" height="2.0" fill="#db4b59"/>
<line x1="284.8" y1="96.5" x2="284.8" y2="103.0" stroke="#2c74b6" stroke-width="0.6"/>
<rect x="283.95" y="97.6" width="1.7" height="4.2" fill="#2c74b6"/>
<line x1="286.7" y1="82.5" x2="286.7" y2="99.5" stroke="#2c74b6" stroke-width="0.6"/>
<rect x="285.85" y="86.0" width="1.7" height="12.5" fill="#2c74b6"/>
<line x1="288.6" y1="85.0" x2="288.6" y2="99.5" stroke="#db4b59" stroke-width="0.6"/>
<rect x="287.75" y="86.0" width="1.7" height="12.5" fill="#db4b59"/>
<line x1="290.6" y1="96.5" x2="290.6" y2="105.5" stroke="#db4b59" stroke-width="0.6"/>
<rect x="289.75" y="97.6" width="1.7" height="6.7" fill="#db4b59"/>
<line x1="292.6" y1="93.5" x2="292.6" y2="104.5" stroke="#2c74b6" stroke-width="0.6"/>
<rect x="291.75" y="96.0" width="1.7" height="7.5" fill="#2c74b6"/>
<line x1="294.5" y1="100.0" x2="294.5" y2="118.6" stroke="#db4b59" stroke-width="0.6"/>
<rect x="293.65" y="101.0" width="1.7" height="14.0" fill="#db4b59"/>
<line x1="296.5" y1="95.0" x2="296.5" y2="115.5" stroke="#2c74b6" stroke-width="0.6"/>
<rect x="295.65" y="96.0" width="1.7" height="18.4" fill="#2c74b6"/>
<line x1="298.6" y1="89.3" x2="298.6" y2="101.0" stroke="#2c74b6" stroke-width="0.6"/>
<rect x="297.75" y="95.0" width="1.7" height="5.0" fill="#2c74b6"/>
<line x1="300.6" y1="95.0" x2="300.6" y2="102.0" stroke="#db4b59" stroke-width="0.6"/>
<rect x="299.75" y="96.0" width="1.7" height="5.0" fill="#db4b59"/>
<line x1="302.6" y1="95.0" x2="302.6" y2="101.0" stroke="#2c74b6" stroke-width="0.6"/>
<rect x="301.75" y="96.0" width="1.7" height="4.0" fill="#2c74b6"/>
<line x1="304.6" y1="83.0" x2="304.6" y2="100.5" stroke="#2c74b6" stroke-width="0.6"/>
<rect x="303.75" y="84.2" width="1.7" height="15.1" fill="#2c74b6"/>
<line x1="306.6" y1="80.0" x2="306.6" y2="88.5" stroke="#2c74b6" stroke-width="0.6"/>
<rect x="305.75" y="81.0" width="1.7" height="6.6" fill="#2c74b6"/>
<line x1="308.5" y1="73.6" x2="308.5" y2="85.0" stroke="#2c74b6" stroke-width="0.6"/>
<rect x="307.65" y="80.0" width="1.7" height="4.0" fill="#2c74b6"/>
<line x1="310.4" y1="78.5" x2="310.4" y2="83.0" stroke="#2c74b6" stroke-width="0.6"/>
<rect x="309.55" y="79.5" width="1.7" height="2.5" fill="#2c74b6"/>
<line x1="312.2" y1="63.5" x2="312.2" y2="81.5" stroke="#2c74b6" stroke-width="0.6"/>
<rect x="311.35" y="64.4" width="1.7" height="16.1" fill="#2c74b6"/>
<line x1="314.0" y1="56.8" x2="314.0" y2="66.0" stroke="#2c74b6" stroke-width="0.6"/>
<rect x="313.15" y="61.0" width="1.7" height="4.2" fill="#2c74b6"/>
<line x1="316.0" y1="59.0" x2="316.0" y2="69.5" stroke="#db4b59" stroke-width="0.6"/>
<rect x="315.15" y="60.0" width="1.7" height="8.6" fill="#db4b59"/>
<line x1="318.0" y1="67.5" x2="318.0" y2="74.5" stroke="#db4b59" stroke-width="0.6"/>
<rect x="317.15" y="68.6" width="1.7" height="5.0" fill="#db4b59"/>
<line x1="320.0" y1="70.0" x2="320.0" y2="79.4" stroke="#db4b59" stroke-width="0.6"/>
<rect x="319.15" y="71.0" width="1.7" height="3.4" fill="#db4b59"/>
<line x1="322.0" y1="70.0" x2="322.0" y2="76.0" stroke="#2c74b6" stroke-width="0.6"/>
<rect x="321.15" y="71.0" width="1.7" height="4.0" fill="#2c74b6"/>
<line x1="324.0" y1="62.5" x2="324.0" y2="74.5" stroke="#2c74b6" stroke-width="0.6"/>
<rect x="323.15" y="63.5" width="1.7" height="10.1" fill="#2c74b6"/>
<line x1="326.0" y1="62.5" x2="326.0" y2="68.0" stroke="#db4b59" stroke-width="0.6"/>
<rect x="325.15" y="63.5" width="1.7" height="3.5" fill="#db4b59"/>
<line x1="328.0" y1="61.5" x2="328.0" y2="66.0" stroke="#2c74b6" stroke-width="0.6"/>
<rect x="327.15" y="62.7" width="1.7" height="2.5" fill="#2c74b6"/>
<line x1="330.0" y1="53.5" x2="330.0" y2="63.5" stroke="#2c74b6" stroke-width="0.6"/>
<rect x="329.15" y="59.3" width="1.7" height="3.4" fill="#2c74b6"/>
<line x1="331.9" y1="59.0" x2="331.9" y2="67.0" stroke="#db4b59" stroke-width="0.6"/>
<rect x="331.05" y="60.0" width="1.7" height="6.0" fill="#db4b59"/>
<line x1="333.9" y1="61.5" x2="333.9" y2="67.0" stroke="#2c74b6" stroke-width="0.6"/>
<rect x="333.05" y="62.7" width="1.7" height="3.3" fill="#2c74b6"/>
<line x1="335.9" y1="62.5" x2="335.9" y2="74.4" stroke="#db4b59" stroke-width="0.6"/>
<rect x="335.05" y="63.5" width="1.7" height="5.9" fill="#db4b59"/>
<line x1="337.9" y1="61.5" x2="337.9" y2="70.5" stroke="#2c74b6" stroke-width="0.6"/>
<rect x="337.05" y="62.7" width="1.7" height="6.7" fill="#2c74b6"/>
<line x1="339.9" y1="52.5" x2="339.9" y2="63.5" stroke="#2c74b6" stroke-width="0.6"/>
<rect x="339.05" y="53.5" width="1.7" height="9.2" fill="#2c74b6"/>
<line x1="341.9" y1="51.8" x2="341.9" y2="60.5" stroke="#db4b59" stroke-width="0.6"/>
<rect x="341.05" y="53.5" width="1.7" height="5.8" fill="#db4b59"/>
<line x1="343.8" y1="58.0" x2="343.8" y2="62.0" stroke="#db4b59" stroke-width="0.6"/>
<rect x="342.95" y="59.3" width="1.7" height="1.7" fill="#db4b59"/>
<line x1="345.6" y1="58.5" x2="345.6" y2="80.5" stroke="#db4b59" stroke-width="0.6"/>
<rect x="344.75" y="59.3" width="1.7" height="20.1" fill="#db4b59"/>
<line x1="347.6" y1="77.5" x2="347.6" y2="84.5" stroke="#db4b59" stroke-width="0.6"/>
<rect x="346.75" y="78.6" width="1.7" height="1.9" fill="#db4b59"/>
<line x1="349.6" y1="73.5" x2="349.6" y2="80.5" stroke="#2c74b6" stroke-width="0.6"/>
<rect x="348.75" y="74.4" width="1.7" height="5.0" fill="#2c74b6"/>
<line x1="351.6" y1="72.5" x2="351.6" y2="86.0" stroke="#2c74b6" stroke-width="0.6"/>
<rect x="350.75" y="73.6" width="1.7" height="8.4" fill="#2c74b6"/>
<line x1="353.6" y1="65.0" x2="353.6" y2="84.0" stroke="#2c74b6" stroke-width="0.6"/>
<rect x="352.75" y="66.0" width="1.7" height="16.8" fill="#2c74b6"/>
<line x1="355.6" y1="53.5" x2="355.6" y2="68.0" stroke="#2c74b6" stroke-width="0.6"/>
<rect x="354.75" y="54.3" width="1.7" height="12.6" fill="#2c74b6"/>
<line x1="357.6" y1="45.5" x2="357.6" y2="56.0" stroke="#2c74b6" stroke-width="0.6"/>
<rect x="356.75" y="46.8" width="1.7" height="8.2" fill="#2c74b6"/>
<line x1="359.6" y1="32.5" x2="359.6" y2="48.0" stroke="#2c74b6" stroke-width="0.6"/>
<rect x="358.75" y="37.6" width="1.7" height="9.2" fill="#2c74b6"/>
<line x1="361.5" y1="36.5" x2="361.5" y2="44.0" stroke="#db4b59" stroke-width="0.6"/>
<rect x="360.65" y="37.6" width="1.7" height="1.9" fill="#db4b59"/>
<line x1="363.4" y1="35.5" x2="363.4" y2="42.0" stroke="#2c74b6" stroke-width="0.6"/>
<rect x="362.55" y="36.7" width="1.7" height="2.5" fill="#2c74b6"/>
<line x1="365.4" y1="30.0" x2="365.4" y2="44.0" stroke="#2c74b6" stroke-width="0.6"/>
<rect x="364.55" y="35.9" width="1.7" height="2.5" fill="#2c74b6"/>
<line x1="367.3" y1="35.0" x2="367.3" y2="51.0" stroke="#db4b59" stroke-width="0.6"/>
<rect x="366.45" y="35.9" width="1.7" height="14.1" fill="#db4b59"/>
<line x1="369.3" y1="47.5" x2="369.3" y2="57.7" stroke="#db4b59" stroke-width="0.6"/>
<rect x="368.45" y="48.5" width="1.7" height="2.5" fill="#db4b59"/>
<line x1="371.3" y1="44.3" x2="371.3" y2="55.0" stroke="#db4b59" stroke-width="0.6"/>
<rect x="370.45" y="47.6" width="1.7" height="2.5" fill="#db4b59"/>
<line x1="373.3" y1="48.0" x2="373.3" y2="57.0" stroke="#db4b59" stroke-width="0.6"/>
<rect x="372.45" y="49.3" width="1.7" height="6.7" fill="#db4b59"/>
<line x1="375.3" y1="54.0" x2="375.3" y2="62.0" stroke="#db4b59" stroke-width="0.6"/>
<rect x="374.45" y="55.2" width="1.7" height="2.5" fill="#db4b59"/>
<line x1="377.3" y1="52.0" x2="377.3" y2="60.0" stroke="#db4b59" stroke-width="0.6"/>
<rect x="376.45" y="55.2" width="1.7" height="2.5" fill="#db4b59"/>
<line x1="379.3" y1="55.5" x2="379.3" y2="62.0" stroke="#db4b59" stroke-width="0.6"/>
<rect x="378.45" y="56.8" width="1.7" height="2.5" fill="#db4b59"/>
<line x1="381.3" y1="58.0" x2="381.3" y2="72.0" stroke="#db4b59" stroke-width="0.6"/>
<rect x="380.45" y="59.3" width="1.7" height="11.7" fill="#db4b59"/>
<line x1="383.2" y1="69.0" x2="383.2" y2="80.5" stroke="#db4b59" stroke-width="0.6"/>
<rect x="382.35" y="70.2" width="1.7" height="9.2" fill="#db4b59"/>
<line x1="385.1" y1="78.5" x2="385.1" y2="86.5" stroke="#db4b59" stroke-width="0.6"/>
<rect x="384.25" y="79.4" width="1.7" height="5.9" fill="#db4b59"/>
<line x1="386.9" y1="79.0" x2="386.9" y2="88.0" stroke="#2c74b6" stroke-width="0.6"/>
<rect x="386.05" y="80.3" width="1.7" height="5.0" fill="#2c74b6"/>
<line x1="388.8" y1="78.0" x2="388.8" y2="83.0" stroke="#db4b59" stroke-width="0.6"/>
<rect x="387.95" y="79.0" width="1.7" height="2.0" fill="#db4b59"/>
<line x1="390.7" y1="78.5" x2="390.7" y2="82.5" stroke="#db4b59" stroke-width="0.6"/>
<rect x="389.85" y="79.5" width="1.7" height="1.5" fill="#db4b59"/>
<line x1="392.7" y1="69.0" x2="392.7" y2="81.0" stroke="#2c74b6" stroke-width="0.6"/>
<rect x="391.85" y="70.0" width="1.7" height="10.0" fill="#2c74b6"/>
<line x1="394.7" y1="64.0" x2="394.7" y2="72.0" stroke="#2c74b6" stroke-width="0.6"/>
<rect x="393.85" y="65.0" width="1.7" height="6.0" fill="#2c74b6"/>
<line x1="396.7" y1="57.5" x2="396.7" y2="66.0" stroke="#2c74b6" stroke-width="0.6"/>
<rect x="395.85" y="58.5" width="1.7" height="6.5" fill="#2c74b6"/>
<line x1="398.7" y1="57.5" x2="398.7" y2="68.7" stroke="#db4b59" stroke-width="0.6"/>
<rect x="397.85" y="58.5" width="1.7" height="9.2" fill="#db4b59"/>
<line x1="400.7" y1="66.5" x2="400.7" y2="79.5" stroke="#db4b59" stroke-width="0.6"/>
<rect x="399.85" y="67.7" width="1.7" height="10.8" fill="#db4b59"/>
<line x1="402.7" y1="77.5" x2="402.7" y2="90.5" stroke="#db4b59" stroke-width="0.6"/>
<rect x="401.85" y="78.5" width="1.7" height="10.8" fill="#db4b59"/>
<line x1="404.7" y1="85.5" x2="404.7" y2="95.0" stroke="#db4b59" stroke-width="0.6"/>
<rect x="403.85" y="86.8" width="1.7" height="4.2" fill="#db4b59"/>
<line x1="406.7" y1="89.0" x2="406.7" y2="106.0" stroke="#db4b59" stroke-width="0.6"/>
<rect x="405.85" y="90.0" width="1.7" height="15.0" fill="#db4b59"/>
<line x1="408.7" y1="103.0" x2="408.7" y2="111.5" stroke="#db4b59" stroke-width="0.6"/>
<rect x="407.85" y="104.3" width="1.7" height="5.9" fill="#db4b59"/>
<line x1="410.6" y1="98.0" x2="410.6" y2="117.7" stroke="#2c74b6" stroke-width="0.6"/>
<rect x="409.75" y="99.3" width="1.7" height="10.9" fill="#2c74b6"/>
<line x1="412.6" y1="96.5" x2="412.6" y2="105.0" stroke="#2c74b6" stroke-width="0.6"/>
<rect x="411.75" y="97.6" width="1.7" height="3.4" fill="#2c74b6"/>
<line x1="414.6" y1="94.0" x2="414.6" y2="102.0" stroke="#2c74b6" stroke-width="0.6"/>
<rect x="413.75" y="95.0" width="1.7" height="3.5" fill="#2c74b6"/>
<line x1="416.5" y1="87.0" x2="416.5" y2="98.0" stroke="#2c74b6" stroke-width="0.6"/>
<rect x="415.65" y="88.4" width="1.7" height="8.4" fill="#2c74b6"/>
<line x1="418.4" y1="76.5" x2="418.4" y2="90.5" stroke="#2c74b6" stroke-width="0.6"/>
<rect x="417.55" y="77.5" width="1.7" height="11.8" fill="#2c74b6"/>
<line x1="420.3" y1="74.5" x2="420.3" y2="79.5" stroke="#2c74b6" stroke-width="0.6"/>
<rect x="419.45" y="75.9" width="1.7" height="2.5" fill="#2c74b6"/>
<line x1="422.3" y1="74.5" x2="422.3" y2="82.0" stroke="#db4b59" stroke-width="0.6"/>
<rect x="421.45" y="75.5" width="1.7" height="3.0" fill="#db4b59"/>
<line x1="424.2" y1="68.5" x2="424.2" y2="79.5" stroke="#2c74b6" stroke-width="0.6"/>
<rect x="423.35" y="69.4" width="1.7" height="9.2" fill="#2c74b6"/>
<line x1="426.2" y1="57.5" x2="426.2" y2="70.5" stroke="#2c74b6" stroke-width="0.6"/>
<rect x="425.35" y="58.5" width="1.7" height="10.9" fill="#2c74b6"/>
<line x1="428.2" y1="56.8" x2="428.2" y2="65.5" stroke="#db4b59" stroke-width="0.6"/>
<rect x="427.35" y="59.3" width="1.7" height="5.0" fill="#db4b59"/>
<line x1="430.2" y1="60.5" x2="430.2" y2="65.5" stroke="#db4b59" stroke-width="0.6"/>
<rect x="429.35" y="61.8" width="1.7" height="2.5" fill="#db4b59"/>
<line x1="432.2" y1="61.5" x2="432.2" y2="69.5" stroke="#db4b59" stroke-width="0.6"/>
<rect x="431.35" y="62.7" width="1.7" height="5.8" fill="#db4b59"/>
<line x1="434.2" y1="67.5" x2="434.2" y2="72.0" stroke="#db4b59" stroke-width="0.6"/>
<rect x="433.35" y="68.5" width="1.7" height="2.5" fill="#db4b59"/>
<line x1="436.2" y1="69.0" x2="436.2" y2="76.5" stroke="#db4b59" stroke-width="0.6"/>
<rect x="435.35" y="70.2" width="1.7" height="5.0" fill="#db4b59"/>
<line x1="438.2" y1="74.0" x2="438.2" y2="82.0" stroke="#db4b59" stroke-width="0.6"/>
<rect x="437.35" y="75.2" width="1.7" height="5.8" fill="#db4b59"/>
<line x1="440.2" y1="64.0" x2="440.2" y2="82.0" stroke="#2c74b6" stroke-width="0.6"/>
<rect x="439.35" y="65.0" width="1.7" height="16.0" fill="#2c74b6"/>
<line x1="442.2" y1="65.5" x2="442.2" y2="76.5" stroke="#db4b59" stroke-width="0.6"/>
<rect x="441.35" y="66.9" width="1.7" height="8.3" fill="#db4b59"/>
<line x1="444.2" y1="70.0" x2="444.2" y2="80.3" stroke="#2c74b6" stroke-width="0.6"/>
<rect x="443.35" y="71.0" width="1.7" height="4.2" fill="#2c74b6"/>
<line x1="446.2" y1="68.5" x2="446.2" y2="73.0" stroke="#2c74b6" stroke-width="0.6"/>
<rect x="445.35" y="69.4" width="1.7" height="2.5" fill="#2c74b6"/>
<line x1="448.2" y1="65.2" x2="448.2" y2="71.5" stroke="#2c74b6" stroke-width="0.6"/>
<rect x="447.35" y="67.7" width="1.7" height="2.5" fill="#2c74b6"/>
<line x1="449.9" y1="67.5" x2="449.9" y2="72.0" stroke="#db4b59" stroke-width="0.6"/>
<rect x="449.05" y="68.5" width="1.7" height="1.7" fill="#db4b59"/>
<line x1="451.5" y1="62.5" x2="451.5" y2="74.0" stroke="#2c74b6" stroke-width="0.6"/>
<rect x="450.65" y="63.3" width="1.7" height="9.7" fill="#2c74b6"/>
<line x1="453.3" y1="61.5" x2="453.3" y2="85.0" stroke="#db4b59" stroke-width="0.6"/>
<rect x="452.45" y="62.7" width="1.7" height="21.3" fill="#db4b59"/>
<line x1="455.2" y1="76.0" x2="455.2" y2="90.3" stroke="#2c74b6" stroke-width="0.6"/>
<rect x="454.35" y="77.0" width="1.7" height="7.4" fill="#2c74b6"/>
<line x1="457.3" y1="76.0" x2="457.3" y2="80.5" stroke="#db4b59" stroke-width="0.6"/>
<rect x="456.45" y="77.0" width="1.7" height="2.4" fill="#db4b59"/>
<line x1="459.4" y1="66.5" x2="459.4" y2="78.5" stroke="#2c74b6" stroke-width="0.6"/>
<rect x="458.55" y="67.7" width="1.7" height="10.0" fill="#2c74b6"/>
<line x1="461.5" y1="61.5" x2="461.5" y2="69.5" stroke="#2c74b6" stroke-width="0.6"/>
<rect x="460.65" y="62.7" width="1.7" height="5.8" fill="#2c74b6"/>
<line x1="463.5" y1="57.6" x2="463.5" y2="66.5" stroke="#db4b59" stroke-width="0.6"/>
<rect x="462.65" y="61.8" width="1.7" height="3.4" fill="#db4b59"/>
<line x1="465.5" y1="61.5" x2="465.5" y2="67.0" stroke="#2c74b6" stroke-width="0.6"/>
<rect x="464.65" y="62.7" width="1.7" height="2.5" fill="#2c74b6"/>
<line x1="467.5" y1="58.0" x2="467.5" y2="64.5" stroke="#2c74b6" stroke-width="0.6"/>
<rect x="466.65" y="59.3" width="1.7" height="4.2" fill="#2c74b6"/>
<line x1="469.5" y1="57.5" x2="469.5" y2="63.0" stroke="#2c74b6" stroke-width="0.6"/>
<rect x="468.65" y="58.5" width="1.7" height="2.5" fill="#2c74b6"/>
<line x1="471.5" y1="54.0" x2="471.5" y2="61.0" stroke="#2c74b6" stroke-width="0.6"/>
<rect x="470.65" y="55.0" width="1.7" height="5.0" fill="#2c74b6"/>
<line x1="473.5" y1="45.9" x2="473.5" y2="57.0" stroke="#2c74b6" stroke-width="0.6"/>
<rect x="472.65" y="49.3" width="1.7" height="6.7" fill="#2c74b6"/>
<line x1="475.4" y1="38.0" x2="475.4" y2="53.5" stroke="#db4b59" stroke-width="0.6"/>
<rect x="474.55" y="48.4" width="1.7" height="4.2" fill="#db4b59"/>
<line x1="477.3" y1="50.5" x2="477.3" y2="63.5" stroke="#db4b59" stroke-width="0.6"/>
<rect x="476.45" y="51.8" width="1.7" height="10.9" fill="#db4b59"/>
<line x1="479.2" y1="60.5" x2="479.2" y2="74.0" stroke="#db4b59" stroke-width="0.6"/>
<rect x="478.35" y="61.8" width="1.7" height="10.9" fill="#db4b59"/>
<line x1="481.0" y1="66.5" x2="481.0" y2="74.0" stroke="#2c74b6" stroke-width="0.6"/>
<rect x="480.15" y="67.7" width="1.7" height="5.0" fill="#2c74b6"/>
<line x1="483.0" y1="65.0" x2="483.0" y2="70.5" stroke="#2c74b6" stroke-width="0.6"/>
<rect x="482.15" y="66.0" width="1.7" height="3.4" fill="#2c74b6"/>
<line x1="485.0" y1="65.0" x2="485.0" y2="77.0" stroke="#db4b59" stroke-width="0.6"/>
<rect x="484.15" y="66.0" width="1.7" height="10.0" fill="#db4b59"/>
<line x1="487.0" y1="75.0" x2="487.0" y2="92.8" stroke="#db4b59" stroke-width="0.6"/>
<rect x="486.15" y="76.0" width="1.7" height="15.0" fill="#db4b59"/>
<line x1="489.0" y1="81.5" x2="489.0" y2="92.0" stroke="#2c74b6" stroke-width="0.6"/>
<rect x="488.15" y="82.8" width="1.7" height="8.2" fill="#2c74b6"/>
<line x1="491.0" y1="77.5" x2="491.0" y2="84.0" stroke="#2c74b6" stroke-width="0.6"/>
<rect x="490.15" y="78.6" width="1.7" height="4.2" fill="#2c74b6"/>
<line x1="493.0" y1="75.0" x2="493.0" y2="80.5" stroke="#2c74b6" stroke-width="0.6"/>
<rect x="492.15" y="76.0" width="1.7" height="3.4" fill="#2c74b6"/>
<line x1="495.0" y1="66.0" x2="495.0" y2="78.0" stroke="#2c74b6" stroke-width="0.6"/>
<rect x="494.15" y="71.9" width="1.7" height="5.0" fill="#2c74b6"/>
<line x1="497.0" y1="70.5" x2="497.0" y2="82.0" stroke="#db4b59" stroke-width="0.6"/>
<rect x="496.15" y="71.9" width="1.7" height="5.0" fill="#db4b59"/>
<line x1="499.0" y1="70.5" x2="499.0" y2="78.0" stroke="#2c74b6" stroke-width="0.6"/>
<rect x="498.15" y="71.9" width="1.7" height="5.0" fill="#2c74b6"/>
<line x1="501.0" y1="70.5" x2="501.0" y2="78.5" stroke="#2c74b6" stroke-width="0.6"/>
<rect x="500.15" y="71.9" width="1.7" height="5.6" fill="#2c74b6"/>
<line x1="503.0" y1="70.5" x2="503.0" y2="80.5" stroke="#db4b59" stroke-width="0.6"/>
<rect x="502.15" y="71.9" width="1.7" height="7.5" fill="#db4b59"/>
<line x1="505.0" y1="77.5" x2="505.0" y2="84.0" stroke="#db4b59" stroke-width="0.6"/>
<rect x="504.15" y="78.5" width="1.7" height="4.3" fill="#db4b59"/>
<line x1="507.0" y1="81.5" x2="507.0" y2="100.0" stroke="#db4b59" stroke-width="0.6"/>
<rect x="506.15" y="82.8" width="1.7" height="13.2" fill="#db4b59"/>
<line x1="509.0" y1="88.0" x2="509.0" y2="97.0" stroke="#2c74b6" stroke-width="0.6"/>
<rect x="508.15" y="89.0" width="1.7" height="7.0" fill="#2c74b6"/>
<line x1="511.0" y1="88.0" x2="511.0" y2="94.5" stroke="#db4b59" stroke-width="0.6"/>
<rect x="510.15" y="89.0" width="1.7" height="4.5" fill="#db4b59"/>
<line x1="513.0" y1="91.5" x2="513.0" y2="102.7" stroke="#db4b59" stroke-width="0.6"/>
<rect x="512.15" y="92.5" width="1.7" height="2.5" fill="#db4b59"/>
<line x1="515.0" y1="81.5" x2="515.0" y2="94.5" stroke="#2c74b6" stroke-width="0.6"/>
<rect x="514.15" y="82.6" width="1.7" height="10.9" fill="#2c74b6"/>
<line x1="517.0" y1="76.5" x2="517.0" y2="83.5" stroke="#2c74b6" stroke-width="0.6"/>
<rect x="516.15" y="77.5" width="1.7" height="5.1" fill="#2c74b6"/>
<line x1="519.0" y1="74.0" x2="519.0" y2="81.0" stroke="#db4b59" stroke-width="0.6"/>
<rect x="518.15" y="77.5" width="1.7" height="2.5" fill="#db4b59"/>
<line x1="521.0" y1="78.0" x2="521.0" y2="83.5" stroke="#db4b59" stroke-width="0.6"/>
<rect x="520.15" y="79.2" width="1.7" height="3.4" fill="#db4b59"/>
<line x1="523.0" y1="80.5" x2="523.0" y2="88.5" stroke="#db4b59" stroke-width="0.6"/>
<rect x="522.15" y="81.7" width="1.7" height="5.9" fill="#db4b59"/>
<line x1="525.0" y1="86.5" x2="525.0" y2="93.0" stroke="#db4b59" stroke-width="0.6"/>
<rect x="524.15" y="87.6" width="1.7" height="4.2" fill="#db4b59"/>
<line x1="527.0" y1="89.0" x2="527.0" y2="96.0" stroke="#db4b59" stroke-width="0.6"/>
<rect x="526.15" y="90.0" width="1.7" height="5.0" fill="#db4b59"/>
<line x1="529.0" y1="90.0" x2="529.0" y2="97.6" stroke="#db4b59" stroke-width="0.6"/>
<rect x="528.15" y="91.0" width="1.7" height="4.0" fill="#db4b59"/>
<line x1="531.0" y1="86.8" x2="531.0" y2="95.5" stroke="#db4b59" stroke-width="0.6"/>
<rect x="530.15" y="91.0" width="1.7" height="3.3" fill="#db4b59"/>
<line x1="533.0" y1="90.5" x2="533.0" y2="102.0" stroke="#db4b59" stroke-width="0.6"/>
<rect x="532.15" y="91.8" width="1.7" height="9.2" fill="#db4b59"/>
<line x1="535.0" y1="99.0" x2="535.0" y2="113.0" stroke="#db4b59" stroke-width="0.6"/>
<rect x="534.15" y="100.0" width="1.7" height="11.9" fill="#db4b59"/>
<line x1="536.9" y1="110.0" x2="536.9" y2="119.0" stroke="#db4b59" stroke-width="0.6"/>
<rect x="536.05" y="111.0" width="1.7" height="6.7" fill="#db4b59"/>
<line x1="538.7" y1="116.0" x2="538.7" y2="123.6" stroke="#2c74b6" stroke-width="0.6"/>
<rect x="537.85" y="117.0" width="1.7" height="2.4" fill="#2c74b6"/>
<line x1="540.5" y1="116.5" x2="540.5" y2="121.5" stroke="#db4b59" stroke-width="0.6"/>
<rect x="539.65" y="117.7" width="1.7" height="2.6" fill="#db4b59"/>
<line x1="542.4" y1="117.5" x2="542.4" y2="136.2" stroke="#db4b59" stroke-width="0.6"/>
<rect x="541.55" y="118.6" width="1.7" height="15.9" fill="#db4b59"/>
<line x1="544.4" y1="126.5" x2="544.4" y2="135.5" stroke="#2c74b6" stroke-width="0.6"/>
<rect x="543.55" y="127.8" width="1.7" height="6.7" fill="#2c74b6"/>
<line x1="546.4" y1="117.5" x2="546.4" y2="129.0" stroke="#2c74b6" stroke-width="0.6"/>
<rect x="545.55" y="118.6" width="1.7" height="9.2" fill="#2c74b6"/>
<line x1="548.4" y1="113.5" x2="548.4" y2="121.5" stroke="#2c74b6" stroke-width="0.6"/>
<rect x="547.55" y="114.4" width="1.7" height="5.9" fill="#2c74b6"/>
<line x1="550.3" y1="112.5" x2="550.3" y2="117.5" stroke="#2c74b6" stroke-width="0.6"/>
<rect x="549.45" y="113.6" width="1.7" height="2.5" fill="#2c74b6"/>
<line x1="552.3" y1="112.5" x2="552.3" y2="119.0" stroke="#db4b59" stroke-width="0.6"/>
<rect x="551.45" y="113.6" width="1.7" height="4.1" fill="#db4b59"/>
<line x1="554.3" y1="115.0" x2="554.3" y2="125.3" stroke="#db4b59" stroke-width="0.6"/>
<rect x="553.45" y="116.1" width="1.7" height="3.3" fill="#db4b59"/>
<line x1="556.1" y1="108.5" x2="556.1" y2="119.5" stroke="#2c74b6" stroke-width="0.6"/>
<rect x="555.25" y="111.0" width="1.7" height="7.6" fill="#2c74b6"/>
<line x1="558.0" y1="110.0" x2="558.0" y2="116.5" stroke="#db4b59" stroke-width="0.6"/>
<rect x="557.15" y="111.0" width="1.7" height="4.2" fill="#db4b59"/>
<line x1="560.0" y1="113.5" x2="560.0" y2="119.0" stroke="#db4b59" stroke-width="0.6"/>
<rect x="559.15" y="114.4" width="1.7" height="3.3" fill="#db4b59"/>
<line x1="562.0" y1="115.0" x2="562.0" y2="119.5" stroke="#db4b59" stroke-width="0.6"/>
<rect x="561.15" y="116.1" width="1.7" height="2.5" fill="#db4b59"/>
<line x1="564.0" y1="116.5" x2="564.0" y2="130.3" stroke="#db4b59" stroke-width="0.6"/>
<rect x="563.15" y="117.7" width="1.7" height="10.9" fill="#db4b59"/>
<line x1="566.1" y1="123.5" x2="566.1" y2="131.0" stroke="#2c74b6" stroke-width="0.6"/>
<rect x="565.25" y="124.4" width="1.7" height="5.1" fill="#2c74b6"/>
<line x1="568.1" y1="121.5" x2="568.1" y2="126.5" stroke="#2c74b6" stroke-width="0.6"/>
<rect x="567.25" y="122.8" width="1.7" height="2.5" fill="#2c74b6"/>
<line x1="570.1" y1="118.5" x2="570.1" y2="124.5" stroke="#2c74b6" stroke-width="0.6"/>
<rect x="569.25" y="119.4" width="1.7" height="4.2" fill="#2c74b6"/>
<line x1="572.1" y1="113.5" x2="572.1" y2="121.5" stroke="#2c74b6" stroke-width="0.6"/>
<rect x="571.25" y="114.4" width="1.7" height="5.9" fill="#2c74b6"/>
<line x1="574.1" y1="103.5" x2="574.1" y2="116.5" stroke="#2c74b6" stroke-width="0.6"/>
<rect x="573.25" y="104.3" width="1.7" height="10.9" fill="#2c74b6"/>
<line x1="576.0" y1="101.0" x2="576.0" y2="106.5" stroke="#db4b59" stroke-width="0.6"/>
<rect x="575.15" y="102.7" width="1.7" height="2.5" fill="#db4b59"/>
<line x1="578.0" y1="103.5" x2="578.0" y2="109.0" stroke="#db4b59" stroke-width="0.6"/>
<rect x="577.15" y="104.3" width="1.7" height="3.4" fill="#db4b59"/>
<line x1="580.0" y1="105.0" x2="580.0" y2="110.5" stroke="#db4b59" stroke-width="0.6"/>
<rect x="579.15" y="106.0" width="1.7" height="3.4" fill="#db4b59"/>
<line x1="581.8" y1="107.5" x2="581.8" y2="112.7" stroke="#db4b59" stroke-width="0.6"/>
<rect x="580.95" y="108.5" width="1.7" height="1.7" fill="#db4b59"/>
<line x1="583.7" y1="89.0" x2="583.7" y2="110.5" stroke="#2c74b6" stroke-width="0.6"/>
<rect x="582.85" y="90.0" width="1.7" height="19.4" fill="#2c74b6"/>
<line x1="585.6" y1="86.0" x2="585.6" y2="93.0" stroke="#db4b59" stroke-width="0.6"/>
<rect x="584.75" y="89.3" width="1.7" height="2.5" fill="#db4b59"/>
<line x1="587.6" y1="90.0" x2="587.6" y2="94.0" stroke="#db4b59" stroke-width="0.6"/>
<rect x="586.75" y="91.0" width="1.7" height="1.6" fill="#db4b59"/>
<line x1="589.5" y1="90.5" x2="589.5" y2="96.0" stroke="#db4b59" stroke-width="0.6"/>
<rect x="588.65" y="91.8" width="1.7" height="3.3" fill="#db4b59"/>
<line x1="591.4" y1="93.5" x2="591.4" y2="98.0" stroke="#db4b59" stroke-width="0.6"/>
<rect x="590.55" y="94.3" width="1.7" height="2.5" fill="#db4b59"/>
<line x1="593.4" y1="85.0" x2="593.4" y2="98.0" stroke="#2c74b6" stroke-width="0.6"/>
<rect x="592.55" y="86.0" width="1.7" height="10.8" fill="#2c74b6"/>
<line x1="595.4" y1="77.5" x2="595.4" y2="88.0" stroke="#2c74b6" stroke-width="0.6"/>
<rect x="594.55" y="84.2" width="1.7" height="2.6" fill="#2c74b6"/>
<line x1="597.4" y1="84.0" x2="597.4" y2="89.0" stroke="#db4b59" stroke-width="0.6"/>
<rect x="596.55" y="85.0" width="1.7" height="2.6" fill="#db4b59"/>
<line x1="599.4" y1="84.0" x2="599.4" y2="88.0" stroke="#db4b59" stroke-width="0.6"/>
<rect x="598.55" y="85.0" width="1.7" height="1.8" fill="#db4b59"/>
<rect x="0" y="304.2" width="600" height="61.2" fill="#f0edf9"/>
<line x1="0" y1="304" x2="600" y2="304" stroke="#b9b9c6" stroke-width="0.9" stroke-dasharray="2.6 2.15"/>
<line x1="0" y1="365.4" x2="600" y2="365.4" stroke="#b9b9c6" stroke-width="0.9" stroke-dasharray="2.6 2.15"/>
<line x1="0" y1="334.4" x2="600" y2="334.4" stroke="#d4d2e0" stroke-width="0.8" stroke-dasharray="2.6 2.15"/>
<polyline points="-1.0,328.0 3.0,334.0 7.0,342.0 12.0,347.4 20.0,350.0 30.0,348.6 40.0,347.4 50.0,351.0 58.0,355.0 66.0,358.6 71.0,357.4 76.0,353.0 82.0,347.4 88.0,342.6 94.0,340.6 102.0,342.6 110.0,346.6 116.0,350.0 120.0,351.0 126.0,355.0 132.0,358.0 138.0,356.0 144.0,352.0 150.0,347.0 156.0,341.0 162.0,336.0 168.0,333.0 174.0,329.4 180.0,326.0 186.0,323.0 192.0,321.0 198.0,317.0 204.0,313.0 210.0,309.4 216.0,306.0 221.0,304.0 226.0,306.6 232.0,310.0 238.0,313.4 240.0,314.0 244.0,320.0 248.0,324.0 252.0,325.0 256.0,323.4 262.0,320.0 268.0,318.0 273.0,315.0 277.0,311.0 280.0,310.0 284.0,311.4 290.0,316.0 296.0,322.0 302.0,325.4 308.0,325.4 314.0,323.0 320.0,320.0 326.0,316.6 330.0,315.0 336.0,316.6 342.0,319.4 348.0,323.0 354.0,325.0 360.0,324.0 366.0,321.5 372.0,321.0 378.0,321.5 382.0,325.0 386.0,331.0 390.0,336.0 396.0,341.0 402.0,346.0 408.0,349.0 414.0,348.6 420.0,346.0 426.0,343.4 431.0,340.0 436.0,336.0 442.0,333.0 448.0,331.0 454.0,331.4 460.0,332.0 466.0,330.0 472.0,328.0 478.0,326.6 480.0,327.0 484.0,328.0 490.0,332.0 496.0,336.0 502.0,339.4 508.0,342.0 514.0,342.6 520.0,342.6 526.0,344.6 532.0,347.4 538.0,351.0 544.0,355.0 550.0,356.6 556.0,356.6 562.0,356.0 568.0,352.0 574.0,347.4 580.0,343.0 586.0,337.0 592.0,329.0 596.0,324.0 601.0,320.6" fill="none" stroke="#f3e7a4" stroke-width="1" stroke-linejoin="round"/>
<polyline points="-1.0,348.0 5.0,348.0 7.6,355.0 11.0,345.0 13.0,352.0 15.0,352.0 17.6,358.6 19.4,350.6 22.0,350.0 25.0,342.6 29.0,354.6 32.0,346.6 35.0,333.4 37.0,350.0 39.0,338.0 43.0,351.0 45.0,358.0 50.0,365.0 54.0,357.6 57.0,360.0 60.6,367.0 63.0,362.0 65.0,360.0 66.0,347.4 70.0,339.0 72.4,346.6 75.6,342.4 78.0,334.0 80.6,335.0 84.4,332.0 86.4,335.0 90.0,350.0 93.6,337.6 95.6,347.0 98.0,357.0 100.0,350.0 104.0,351.4 107.4,345.0 110.0,347.4 113.4,362.0 118.0,344.4 120.0,348.0 122.0,355.0 125.0,365.4 128.0,366.0 131.0,360.0 133.6,361.0 135.6,366.0 137.0,350.0 139.0,342.0 141.6,344.0 144.4,330.0 146.6,326.0 149.6,332.0 151.6,333.0 154.4,337.4 158.0,329.0 161.0,325.4 163.0,332.0 167.0,342.0 170.0,332.0 172.4,320.0 177.0,314.4 179.6,320.0 182.4,312.6 185.0,318.0 189.0,314.0 192.0,325.0 194.4,329.0 197.0,317.0 199.6,303.0 202.0,301.4 203.6,303.4 205.0,302.0 206.4,307.4 209.0,302.0 213.0,306.0 215.6,303.0 219.0,301.4 221.0,306.0 224.0,318.0 226.6,314.0 229.6,325.0 232.4,318.0 235.6,323.0 238.0,320.0 240.0,305.0 241.0,309.0 242.0,304.0 243.6,331.0 245.6,348.0 248.0,342.0 250.0,333.0 252.4,319.0 255.0,313.0 258.0,309.4 261.0,307.4 263.6,303.0 265.0,301.4 267.0,308.0 269.4,316.0 271.6,312.0 273.6,313.4 275.6,306.6 278.0,314.0 281.0,323.0 283.6,324.6 286.4,317.4 289.0,325.0 291.0,329.0 292.4,326.0 294.6,337.0 296.6,328.0 298.4,330.6 300.0,327.4 302.0,329.0 305.0,323.0 308.0,320.0 310.4,318.0 312.4,310.0 314.0,308.6 315.6,314.0 318.0,320.0 320.0,318.6 322.4,322.6 324.0,316.0 326.4,318.0 329.0,314.6 331.0,316.6 333.0,320.0 334.4,318.6 336.0,325.0 339.0,316.0 341.0,320.0 343.6,321.0 346.0,335.0 347.6,339.0 349.6,335.0 351.6,336.0 353.6,328.0 356.0,319.0 358.4,312.0 360.0,310.0 362.4,310.0 364.4,308.0 366.0,316.0 367.4,325.0 370.0,323.0 373.0,331.0 376.0,333.0 379.0,335.0 381.0,344.0 383.0,351.0 385.4,357.0 388.0,351.0 391.0,352.0 394.0,335.0 396.6,326.6 399.0,336.0 402.0,349.0 404.4,354.6 407.0,363.0 409.0,365.0 411.0,354.0 414.0,351.0 416.4,343.0 418.4,332.0 421.0,331.0 423.0,329.0 426.4,318.0 429.0,324.0 431.0,322.0 433.0,328.0 435.6,332.0 438.0,339.4 440.6,327.0 442.0,335.0 445.0,332.0 448.0,329.0 450.4,328.0 452.0,325.0 453.6,343.0 456.0,337.0 458.0,338.0 460.0,328.0 462.4,325.4 464.0,327.0 466.4,323.0 469.0,324.0 471.0,319.0 473.6,315.0 476.0,319.0 478.0,332.0 479.4,340.6 480.0,340.0 482.0,334.0 483.4,333.0 485.0,340.0 487.6,353.0 490.0,344.0 493.0,338.0 495.6,334.0 497.6,339.0 499.4,334.0 501.6,334.6 504.0,343.0 506.4,355.0 508.4,346.0 511.0,350.0 514.0,340.0 516.4,334.6 519.0,335.0 522.0,341.0 525.0,346.0 528.0,350.0 530.4,346.0 533.0,355.0 536.0,364.0 538.4,365.4 540.0,367.0 542.4,374.0 544.0,371.0 545.6,359.0 548.0,350.0 550.4,347.4 553.6,352.0 556.0,342.6 559.0,346.0 561.6,348.0 564.0,358.6 567.0,351.0 569.6,347.4 571.6,338.0 574.0,327.0 576.4,326.0 579.0,331.0 581.0,332.0 584.0,313.0 586.4,316.0 589.0,318.0 591.0,323.0 594.0,312.6 597.0,314.6 601.0,314.0" fill="none" stroke="#9083c9" stroke-width="0.9" stroke-linejoin="round"/>
</svg>
<div class="hd"><span class="t">British Pound / U.S. Dollar · 1D · OANDA</span><span class="ic"></span>O<span class="v">1.33611</span><span class="g">H</span><span class="v">1.33942</span><span class="g">L</span><span class="v">1.33571</span><span class="g">C</span><span class="v">1.33767</span><span class="g">Vol</span><span class="v">176.73K</span></div>
<span class="tl" style="left:11px">Nov</span><span class="tl" style="left:52.5px">Dec</span><span class="tl b" style="left:94px">2025</span><span class="tl" style="left:137px">Feb</span><span class="tl" style="left:176px">Mar</span><span class="tl" style="left:217px">Apr</span><span class="tl" style="left:261px">May</span><span class="tl" style="left:304.5px">Jun</span><span class="tl" style="left:345px">Jul</span><span class="tl" style="left:390px">Aug</span><span class="tl" style="left:432px">Sep</span><span class="tl" style="left:475px">Oct</span><span class="tl" style="left:521px">Nov</span><span class="tl" style="left:560px">Dec</span>
</div></body></html>
